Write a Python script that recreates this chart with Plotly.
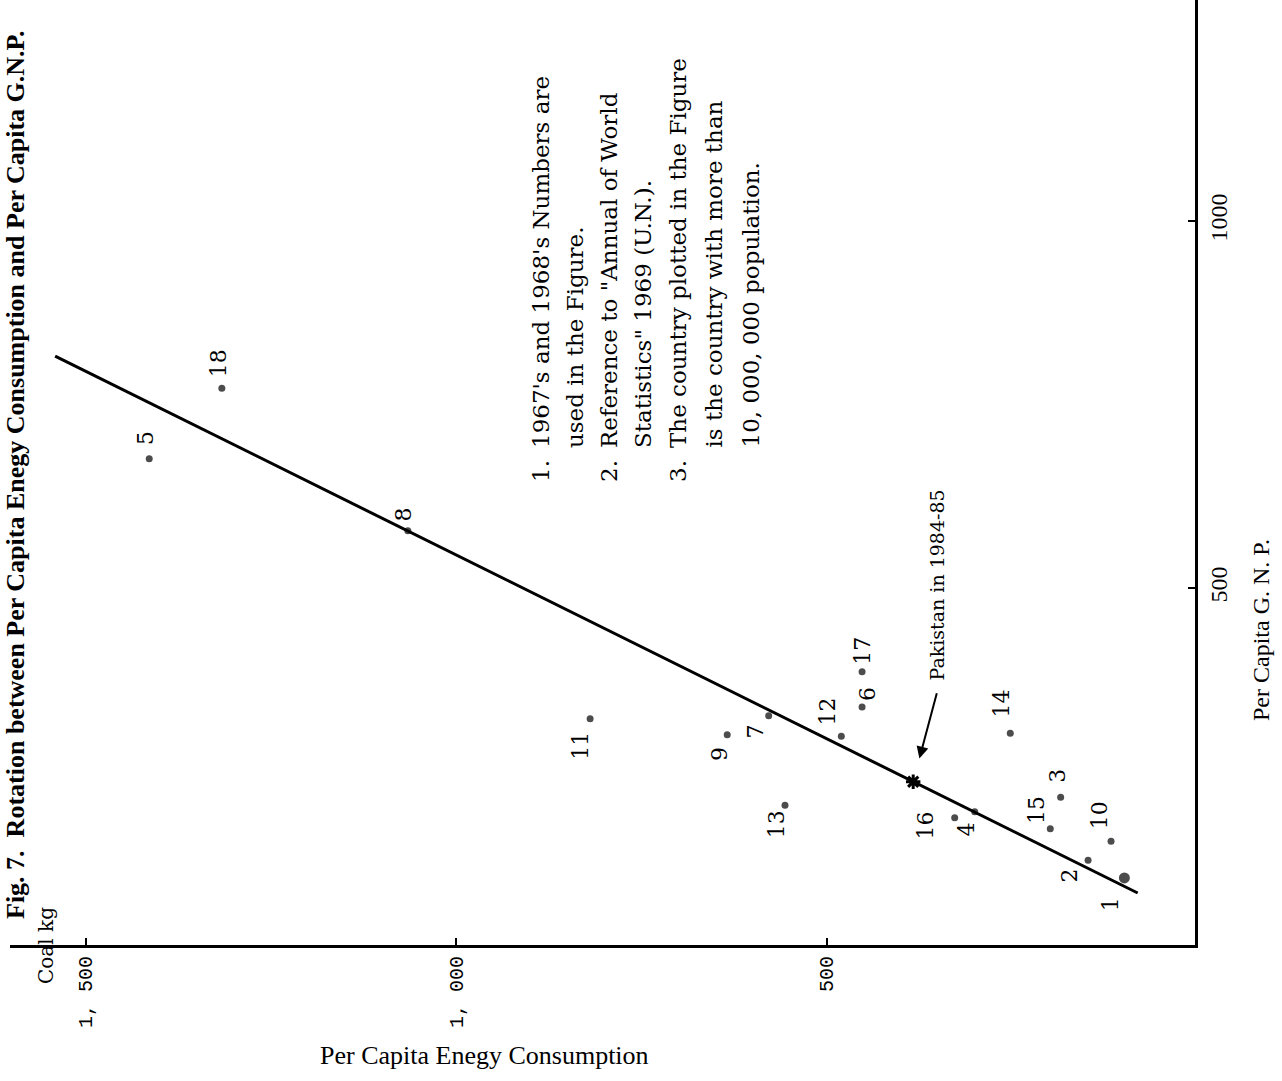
import plotly.graph_objects as go

# ---------------- data ----------------
point_ids = ["1", "2", "3", "4", "5", "6", "7", "8", "9",
             "10", "11", "12", "13", "14", "15", "16", "17", "18"]
energy_kg = [98, 147, 184, 300, 1414, 452, 578, 1065, 634,
             116, 819, 480, 556, 252, 198, 327, 452, 1316]
gnp_per_capita = [105, 129, 215, 195, 676, 338, 326, 578, 300,
                  155, 322, 298, 204, 302, 172, 187, 386, 772]

pakistan_energy = [383]
pakistan_gnp = [236]

trend_energy = [1541, 80]
trend_gnp = [816, 84.5]

energy_ticks = [500, 1000, 1500]
energy_tick_text = ["500", "1, 000", "1, 500"]
gnp_ticks = [500, 1000]
gnp_tick_text = ["500", "1000"]

notes_numbers = ["1.", "", "2.", "", "3.", "", ""]
notes_lines = [
    "1967's and 1968's Numbers are",
    "used in the Figure.",
    "Reference to \"Annual of World",
    "Statistics\" 1969 (U.N.).",
    "The country plotted in the Figure",
    "is the country with more than",
    "10, 000, 000 population.",
]

# label offsets (pixels, right / down) for the point numbers
label_dx = [-13, -19, -3, -8, -3, 6, -13, -4, -7, -12, -9, -14, -9, -9, -14, -29, 1, -3]
label_dy = [26, 15, -21, 18, -21, -13, 16, -16, 19, -26, 27, -25, 19, -30, -19, 8, -21, -25]

# ---------------- layout geometry ----------------
W, H = 1282, 1081
L, R, T, B = 10, 87, 0, 136
PW, PH = W - L - R, H - T - B


def pxx(px):
    return (px - L) / PW


def pxy(py):
    return (T + PH - py) / PH


# axis scales: energy 0 at px 1197, 0.741 px/kg ; gnp 0 at py 955, 0.734 px/unit
x_left = (1197 - L) / 0.741
x_right = (1197 - (L + PW)) / 0.741
y_bottom = (955 - (T + PH)) / 0.734
y_top = (955 - T) / 0.734

serif = "DejaVu Serif"
times = "Liberation Serif"

fig = go.Figure()

fig.add_trace(go.Scatter(
    x=trend_energy, y=trend_gnp, mode="lines",
    line=dict(color="black", width=3), hoverinfo="skip", showlegend=False))

fig.add_trace(go.Scatter(
    x=energy_kg, y=gnp_per_capita, mode="markers",
    marker=dict(color="black", size=[11 if p == "1" else 7 for p in point_ids],
                line=dict(width=0)),
    showlegend=False))

fig.add_trace(go.Scatter(
    x=pakistan_energy, y=pakistan_gnp, mode="markers",
    marker=dict(symbol="asterisk-open", color="black", size=12,
                line=dict(color="black", width=3)),
    showlegend=False))

annotations = []
for pid, ex, gy, dx, dy in zip(point_ids, energy_kg, gnp_per_capita, label_dx, label_dy):
    annotations.append(dict(
        x=ex, y=gy, xref="x", yref="y", text=pid, showarrow=False,
        textangle=-90, xshift=dx, yshift=-dy,
        font=dict(family=serif, size=22, color="black")))

# arrow to Pakistan point
annotations.append(dict(
    x=pakistan_energy[0], y=pakistan_gnp[0], xref="x", yref="y", text="",
    showarrow=True, ax=24, ay=-90, arrowhead=2, arrowsize=1.2, arrowwidth=2,
    arrowcolor="black", standoff=24))
annotations.append(dict(
    x=pxx(936), y=pxy(683), xref="paper", yref="paper",
    text="Pakistan in 1984-85", showarrow=False, textangle=-90,
    xanchor="center", yanchor="bottom",
    font=dict(family=serif, size=19, color="black")))

# notes block
note_x = [541, 575, 609, 643, 678, 713, 750]
for nx, num, line in zip(note_x, notes_numbers, notes_lines):
    annotations.append(dict(
        x=pxx(nx), y=pxy(450), xref="paper", yref="paper", text=line,
        showarrow=False, textangle=-90, xanchor="center", yanchor="bottom",
        font=dict(family=serif, size=23, color="black")))
    if num:
        annotations.append(dict(
            x=pxx(nx), y=pxy(484), xref="paper", yref="paper", text=num,
            showarrow=False, textangle=-90, xanchor="center", yanchor="bottom",
            font=dict(family=serif, size=23, color="black")))

# title (at the left edge)
annotations.append(dict(
    x=pxx(15), y=pxy(475), xref="paper", yref="paper",
    text="<b>Fig. 7.  Rotation between Per Capita Enegy Consumption and Per Capita G.N.P.</b>",
    showarrow=False, textangle=-90, xanchor="center", yanchor="middle",
    font=dict(family=times, size=26, color="black")))

# axis titles
annotations.append(dict(
    x=pxx(484), y=pxy(1055), xref="paper", yref="paper",
    text="Per Capita Enegy Consumption", showarrow=False,
    xanchor="center", yanchor="middle",
    font=dict(family=times, size=26, color="black")))
annotations.append(dict(
    x=pxx(1261), y=pxy(630), xref="paper", yref="paper",
    text="Per Capita G. N. P.", showarrow=False, textangle=-90,
    xanchor="center", yanchor="middle",
    font=dict(family=times, size=24, color="black")))
annotations.append(dict(
    x=pxx(46), y=pxy(946), xref="paper", yref="paper",
    text="Coal kg", showarrow=False, textangle=-90,
    xanchor="center", yanchor="middle",
    font=dict(family=serif, size=20, color="black")))

fig.update_layout(
    width=W, height=H,
    margin=dict(l=L, r=R, t=T, b=B, pad=0),
    paper_bgcolor="white", plot_bgcolor="white",
    showlegend=False,
    annotations=annotations,
    xaxis=dict(
        range=[x_left, x_right], showgrid=False, zeroline=False,
        showline=True, linecolor="black", linewidth=3,
        ticks="inside", ticklen=7, tickwidth=2, tickcolor="black",
        tickvals=energy_ticks, ticktext=energy_tick_text, tickangle=-90,
        tickfont=dict(family="Liberation Mono", size=20, color="black")),
    yaxis=dict(
        range=[y_bottom, y_top], side="right", showgrid=False, zeroline=False,
        showline=True, linecolor="black", linewidth=3,
        ticks="inside", ticklen=7, tickwidth=2, tickcolor="black",
        tickvals=gnp_ticks, ticktext=gnp_tick_text, tickangle=-90,
        tickfont=dict(family=times, size=24, color="black")),
)

fig.write_html("out.html")
